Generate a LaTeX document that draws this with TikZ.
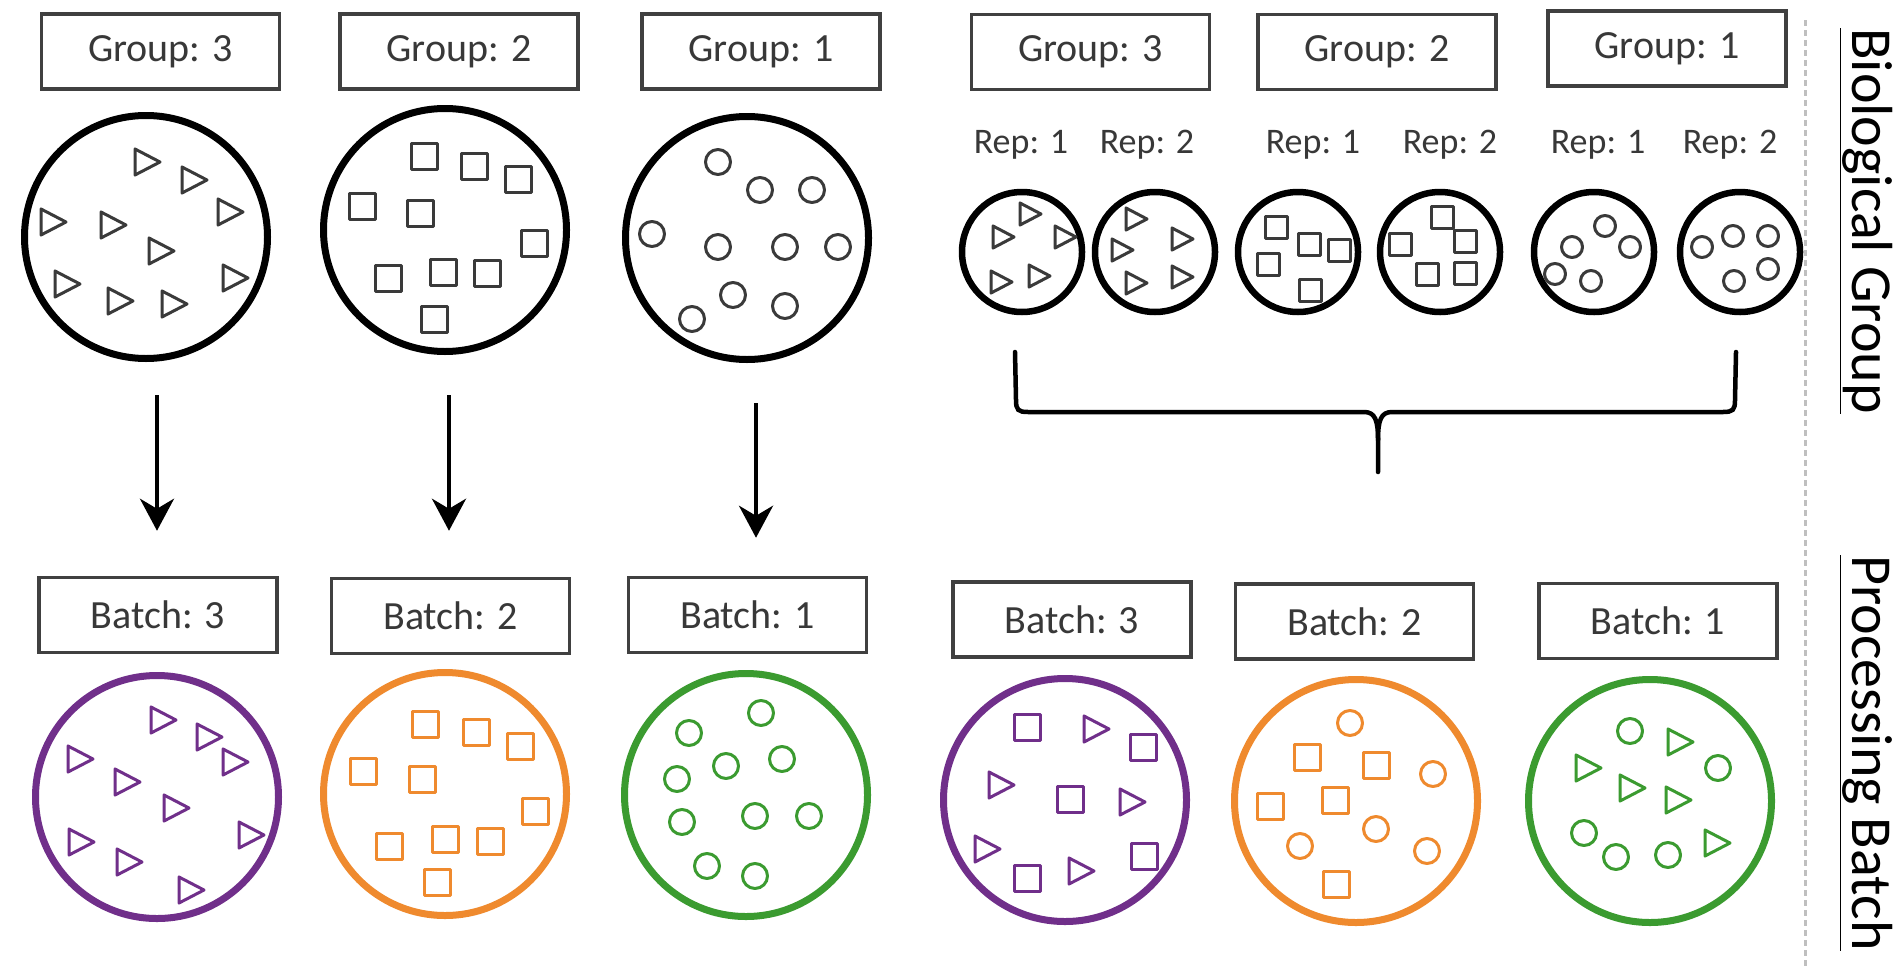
\documentclass[tikz,border=0pt]{standalone}
\usepackage{fontspec}
\setmainfont{Carlito}
\usetikzlibrary{arrows.meta,calc}
\definecolor{cpur}{HTML}{702F8A}
\definecolor{cora}{HTML}{EF8A2E}
\definecolor{cgrn}{HTML}{3B9B30}
\definecolor{ink}{HTML}{3A3A3A}
\tikzset{
  lbl/.style={draw=black!75, line width=3.5pt, minimum width=238pt, minimum height=75pt, inner sep=0pt,
              font=\fontsize{40}{48}\selectfont, text=black!78},
  bigc/.style={circle, draw=#1, line width=7pt, minimum size=243pt, inner sep=0pt},
  bigc/.default=black,
  repc/.style={circle, draw, line width=6.5pt, minimum size=120pt, inner sep=0pt},
  replbl/.style={font=\fontsize{36}{42}\selectfont, text=black!78, inner sep=0pt},
  arr/.style={-{Stealth[length=32pt,width=34pt,inset=10pt]}, line width=4pt},
  shp/.style={line width=3pt, line join=round},
  side/.style={rotate=-90, anchor=base west, font=\fontsize{58}{66}\selectfont, inner sep=0pt},
  pics/tb/.style={code={\draw[shp] (-12,-13) -- (-12,13) -- (13,0) -- cycle;}},
  pics/sb/.style={code={\draw[shp] (-13,-13) rectangle (13,13);}},
  pics/cb/.style={code={\draw[shp] (0,0) circle[radius=12.5pt];}},
  pics/ts/.style={code={\draw[shp] (-10,-11) -- (-10,11) -- (11,0) -- cycle;}},
  pics/ss/.style={code={\draw[shp] (-11,-11) rectangle (11,11);}},
  pics/cs/.style={code={\draw[shp] (0,0) circle[radius=10.5pt];}},
}
\begin{document}
\begin{tikzpicture}[x=1pt,y=-1pt]
\fill[white] (0,0) rectangle (1902,969);
\useasboundingbox (0,0) rectangle (1902,969);

% ---------- top left: biological groups ----------
\node[lbl] (g3) at (160.5,51.5) {Group: 3};
\node[lbl] (g2) at (459,51.5) {Group: 2};
\node[lbl] (g1) at (761,51.5) {Group: 1};
\node[bigc] (c1) at (146,237) {};
\node[bigc] (c2) at (445,230) {};
\node[bigc] (c3) at (747,238) {};
\foreach \x/\y in {147/162,194/180,230/212,53/222,113/225,161/251,67/284,120/301,174/304,235/278}
  \pic[color=ink] at (\x,\y) {tb};
\foreach \x/\y in {424/156,474/166,518/179,362/206,420/213,534/243,388/278,443/272,487/273,434/319}
  \pic[color=ink] at (\x,\y) {sb};
\foreach \x/\y in {718/162,760/190,812/190,652/234,718/247,785/247,838/247,733/295,785/306,692/319}
  \pic[color=ink] at (\x,\y) {cb};

% ---------- bottom left: batches ----------
\node[lbl] (b3) at (158,615) {Batch: 3};
\node[lbl] (b2) at (450.5,616) {Batch: 2};
\node[lbl] (b1) at (747.5,615) {Batch: 1};
\node[bigc=cpur] (p1) at (157,797) {};
\node[bigc=cora] (o1) at (445,794) {};
\node[bigc=cgrn] (n1) at (746,795) {};
\foreach \x/\y in {163/720,209/737,235/762,80/759,127/782,176/808,81/842,129/862,191/890,251/835}
  \pic[color=cpur] at (\x,\y) {tb};
\foreach \x/\y in {425/724,476/732,520/746,363/771,422/779,535/811,389/846,445/839,490/841,437/882}
  \pic[color=cora] at (\x,\y) {sb};
\foreach \x/\y in {761/713,689/733,782/759,726/766,677/779,682/822,755/816,809/816,707/866,755/876}
  \pic[color=cgrn] at (\x,\y) {cb};

% arrows
\draw[arr] ($(c1.south)+(11,33)$) -- ($(b3.north)+(-1,-45)$);
\draw[arr] ($(c2.south)+(4,40)$) -- ($(b2.north)+(-1.5,-46)$);
\draw[arr] ($(c3.south)+(9,40)$) -- ($(b1.north)+(8.5,-38)$);

% ---------- top right: groups with replicates ----------
\node[lbl] (rg3) at (1090.5,52) {Group: 3};
\node[lbl] (rg2) at (1377,52) {Group: 2};
\node[lbl] (rg1) at (1667,48.5) {Group: 1};
\node[replbl] (l1) at (1021,145) {Rep: 1};
\node[replbl] (l2) at (1147,145) {Rep: 2};
\node[replbl] (l3) at (1313,145) {Rep: 1};
\node[replbl] (l4) at (1450,145) {Rep: 2};
\node[replbl] (l5) at (1598,145) {Rep: 1};
\node[replbl] (l6) at (1730,145) {Rep: 2};
\node[repc] (r1) at (1022,252) {};
\node[repc] (r2) at (1155,252) {};
\node[repc] (r3) at (1298,252) {};
\node[repc] (r4) at (1440,252) {};
\node[repc] (r5) at (1594,252) {};
\node[repc] (r6) at (1740,252) {};
\foreach \x/\y in {1030/214,1003/237,1065/237,1001/282,1039/276,1136/219,1122/250,1182/239,1136/283,1182/277}
  \pic[color=ink] at (\x,\y) {ts};
\foreach \x/\y in {1276/227,1309/244,1339/250,1268/264,1310/290,1442/217,1465/241,1465/273,1427/274,1400/244}
  \pic[color=ink] at (\x,\y) {ss};
\foreach \x/\y in {1605/226,1572/247,1630/247,1555/274,1591/281,1702/247,1733/236,1768/236,1734/281,1768/269}
  \pic[color=ink] at (\x,\y) {cs};

% brace
\coordinate (brL) at (1015,352);
\coordinate (brR) at (1736,352);
\coordinate (brT) at (1378,472);
\draw[line width=4.5pt, line cap=round]
  (brL) -- (1016,400) .. controls (1016,410) and (1018,412) .. (1028,412) -- (1364,412)
  .. controls (1375,412) and (1378,420) .. (1378,440) -- (brT);
\draw[line width=4.5pt, line cap=round]
  (brR) -- (1735,400) .. controls (1735,410) and (1733,412) .. (1723,412) -- (1392,412)
  .. controls (1381,412) and (1378,420) .. (1378,440);

% ---------- bottom right: batches mixing groups ----------
\node[lbl] (rb3) at (1072,619.5) {Batch: 3};
\node[lbl] (rb2) at (1354.5,621.5) {Batch: 2};
\node[lbl] (rb1) at (1658,621) {Batch: 1};
\node[bigc=cpur] (p2) at (1065,800) {};
\node[bigc=cora] (o2) at (1356,801) {};
\node[bigc=cgrn] (n2) at (1650,801) {};
\foreach \x/\y in {1027/727,1143/747,1070/799,1027/878,1144/856}
  \pic[color=cpur] at (\x,\y) {sb};
\foreach \x/\y in {1096/729,1001/785,1132/802,987/849,1081/871}
  \pic[color=cpur] at (\x,\y) {tb};
\foreach \x/\y in {1350/723,1433/774,1376/829,1300/846,1427/851}
  \pic[color=cora] at (\x,\y) {cb};
\foreach \x/\y in {1307/757,1376/765,1270/806,1335/800,1336/884}
  \pic[color=cora] at (\x,\y) {sb};
\foreach \x/\y in {1630/731,1718/768,1584/833,1616/857,1668/855}
  \pic[color=cgrn] at (\x,\y) {cb};
\foreach \x/\y in {1680/742,1588/768,1632/788,1678/800,1717/843}
  \pic[color=cgrn] at (\x,\y) {tb};

% ---------- side labels ----------
\draw[black!25, line width=3pt, dash pattern=on 6pt off 4pt] (1805,20) -- (1805,969);
\node[side] (bio) at (1852,28) {\underline{Biological Group}};
\node[side] (proc) at (1852,555) {\underline{Processing Batch}};
\end{tikzpicture}
\end{document}
